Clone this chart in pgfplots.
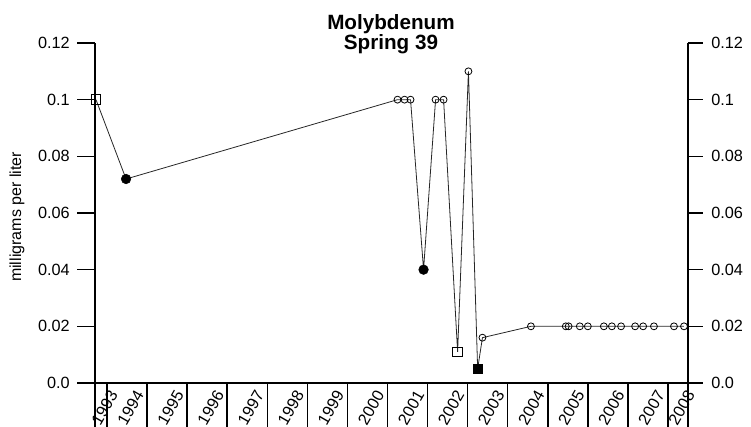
\documentclass[border=0pt]{standalone}
\usepackage{pgfplots}
\pgfplotsset{compat=1.18}
\usepackage{pgfplotstable}
\usepackage{fontspec}
\setmainfont{Liberation Sans}

% all sampled values, in time order
\pgfplotstableread{
x y
1993.725 0.100
1994.475 0.072
2001.250 0.100
2001.425 0.100
2001.575 0.100
2001.900 0.040
2002.200 0.100
2002.400 0.100
2002.750 0.011
2003.020 0.110
2003.250 0.005
2003.370 0.016
2004.580 0.020
2005.450 0.020
2005.520 0.020
2005.800 0.020
2006.000 0.020
2006.400 0.020
2006.600 0.020
2006.830 0.020
2007.180 0.020
2007.380 0.020
2007.650 0.020
2008.150 0.020
2008.400 0.020
}\alldata

\pgfplotstableread{
x y
2001.250 0.100
2001.425 0.100
2001.575 0.100
2002.200 0.100
2002.400 0.100
2003.020 0.110
2003.370 0.016
2004.580 0.020
2005.450 0.020
2005.520 0.020
2005.800 0.020
2006.000 0.020
2006.400 0.020
2006.600 0.020
2006.830 0.020
2007.180 0.020
2007.380 0.020
2007.650 0.020
2008.150 0.020
2008.400 0.020
}\ocirc

\pgfplotstableread{
x y
1993.725 0.100
2002.750 0.011
}\osq

\pgfplotstableread{
x y
1994.475 0.072
2001.900 0.040
}\fcirc

\pgfplotstableread{
x y
2003.250 0.005
}\fsq

\begin{document}
\begin{tikzpicture}
\useasboundingbox (0,0) rectangle (563.25pt,319.5pt);
\pgfplotsset{
  common/.style={
    at={(71.25pt,32.25pt)}, anchor=south west,
    width=444.75pt, height=255pt, scale only axis,
    xmin=1993.7, xmax=2008.5, ymin=0, ymax=0.12,
    clip=false,
    axis line style={line width=1.1pt, black},
    every tick/.style={line width=1.1pt, black},
    tick label style={font=\fontsize{12.2}{14}\selectfont, black},
  }
}
\begin{axis}[common,
  axis x line*=bottom, axis y line*=left,
  xtick={1993.85,1994.5,1995.5,1996.5,1997.5,1998.5,1999.5,2000.5,2001.5,2002.5,2003.5,2004.5,2005.5,2006.5,2007.5,2008.25},
  xticklabels={1993,1994,1995,1996,1997,1998,1999,2000,2001,2002,2003,2004,2005,2006,2007,2008},
  major tick length=0pt,
  minor xtick={1993.7,1994,1995,1996,1997,1998,1999,2000,2001,2002,2003,2004,2005,2006,2007,2008,2008.5},
  minor tick length=34pt,
  every minor tick/.style={line width=1.1pt, black},
  tick align=outside,
  ytick=\empty,
  xticklabel style={xshift=9.5pt, yshift=-6.5pt, rotate=60, anchor=east, inner sep=0pt},
]
\addplot[line width=0.6pt, black!85, mark=none] table {\alldata};
\addplot[only marks, mark=o, mark size=2.6pt, mark options={line width=0.6pt, draw=black}] table {\ocirc};
\addplot[only marks, mark=square, mark size=3.6pt, mark options={line width=0.7pt, draw=black}] table {\osq};
\addplot[only marks, mark=*, mark size=3.6pt, mark options={draw=black, fill=black}] table {\fcirc};
\addplot[only marks, mark=square*, mark size=3.6pt, mark options={draw=black, fill=black}] table {\fsq};
\end{axis}

\begin{axis}[common,
  axis y line*=left, axis x line=none, xtick=\empty,
  ytick={0,0.02,0.04,0.06,0.08,0.1,0.12},
  yticklabels={0.0,0.02,0.04,0.06,0.08,0.1,0.12},
  tick align=outside, major tick length=13.5pt,
  yticklabel style={xshift=-2pt},
]
\end{axis}

\begin{axis}[common,
  axis y line*=right, axis x line=none, xtick=\empty,
  ytick={0,0.02,0.04,0.06,0.08,0.1,0.12},
  yticklabels={0.0,0.02,0.04,0.06,0.08,0.1,0.12},
  tick align=outside, major tick length=11pt,
  yticklabel style={xshift=3pt},
]
\end{axis}

\node[rotate=90, font=\fontsize{12}{14}\selectfont] at (12.75pt,156.75pt) {milligrams per liter};
\node[anchor=base, font=\bfseries\fontsize{15.5}{17}\selectfont] at (293.25pt,297pt) {Molybdenum};
\node[anchor=base, font=\bfseries\fontsize{15.5}{17}\selectfont] at (293.25pt,282pt) {Spring 39};
\end{tikzpicture}
\end{document}
